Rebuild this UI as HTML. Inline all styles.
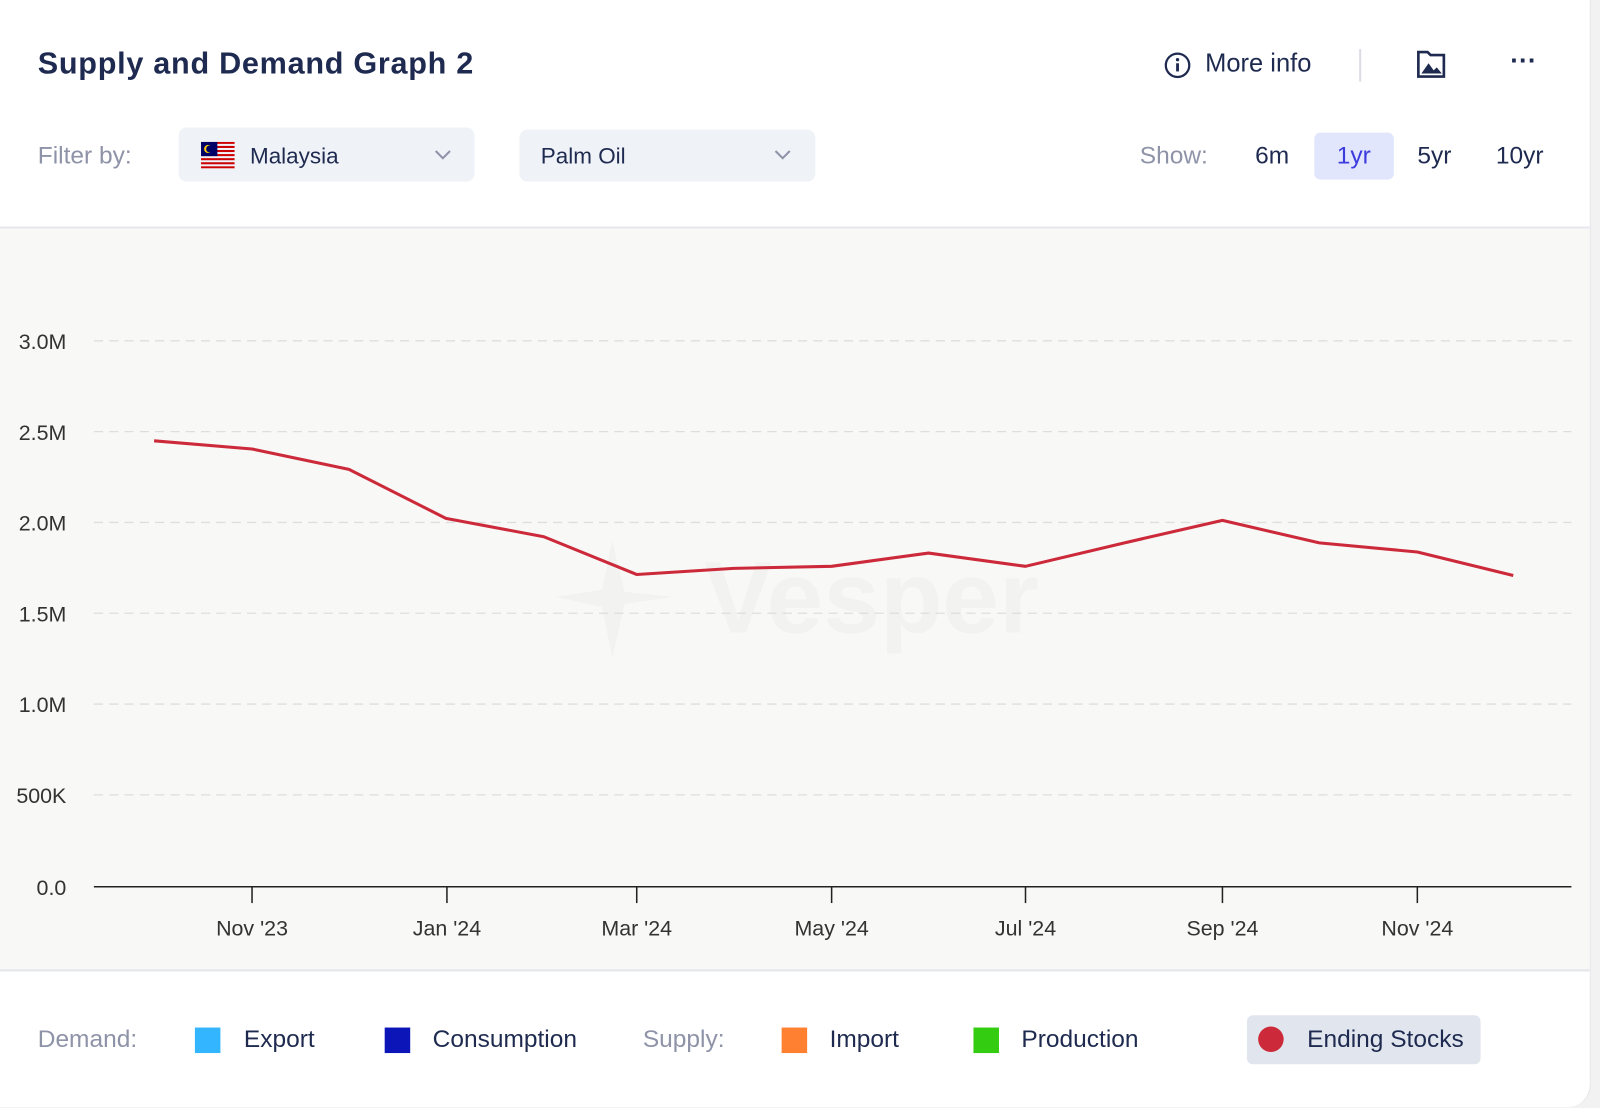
<!DOCTYPE html>
<html><head><meta charset="utf-8"><style>
body{margin:0;width:1600px;height:1108px;background:#f2f2f2;font-family:"Liberation Sans",sans-serif;overflow:hidden;position:relative}
.wrap{position:absolute;left:0;top:0;width:1568px;height:1086px;transform:scale(1.0204);transform-origin:0 0}
.card{position:absolute;left:0;top:0;width:1558px;height:1085px;background:#fff;border-radius:0 0 22px 0;border-right:1px solid #e3e3e8;overflow:hidden}
.t{position:absolute;white-space:nowrap}
.sel{position:absolute;background:#eff2f7;border-radius:8px;height:53px}
</style></head><body>
<div class="wrap">
<div class="card">
<div class="t" style="left:37px;top:46px;font-size:30px;font-weight:bold;color:#1e2a4f;letter-spacing:0.7px">Supply and Demand Graph 2</div>
<svg class="t" style="left:1140px;top:50px" width="28" height="28"><circle cx="14" cy="14" r="11.5" fill="none" stroke="#1e2a4f" stroke-width="2.2"/><rect x="12.6" y="12" width="2.8" height="8" fill="#1e2a4f"/><circle cx="14" cy="8.5" r="1.6" fill="#1e2a4f"/></svg>
<div class="t" style="left:1181px;top:48px;font-size:25px;color:#1e2a4f">More info</div>
<div class="t" style="left:1332px;top:48px;width:2px;height:32px;background:#dcdde3"></div>
<svg class="t" style="left:1388px;top:48px" width="30" height="30"><path d="M2 3h9l3 3h13v21H2z" fill="none" stroke="#1e2a4f" stroke-width="2.6"/><path d="M5 24l7-10 5 7 3-3 5 6z" fill="#1e2a4f"/></svg>
<div class="t" style="left:1480px;top:44px;font-size:26px;color:#1e2a4f;font-weight:bold">···</div>
<div class="t" style="left:37px;top:139px;font-size:24px;color:#8e93a8">Filter by:</div>
<div class="sel" style="left:175px;top:125px;width:290px"></div>
<svg class="t" style="left:197px;top:139px" width="33" height="26"><g fill="#cc0000"><rect y="0" width="33" height="2"/><rect y="4" width="33" height="2"/><rect y="8" width="33" height="2"/><rect y="12" width="33" height="2"/><rect y="16" width="33" height="2"/><rect y="20" width="33" height="2"/><rect y="24" width="33" height="2"/></g><rect width="16" height="14" fill="#010066"/><circle cx="7" cy="7" r="4" fill="#fc0"/><circle cx="8.5" cy="7" r="3.5" fill="#010066"/></svg>
<div class="t" style="left:245px;top:140px;font-size:22px;color:#1e2a4f">Malaysia</div>
<svg class="t" style="left:425px;top:146px" width="18" height="12"><path d="M2 2l7 7 7-7" fill="none" stroke="#8e93a8" stroke-width="2"/></svg>
<div class="sel" style="left:509px;top:127px;width:290px;height:51px"></div>
<div class="t" style="left:530px;top:140px;font-size:22px;color:#1e2a4f">Palm Oil</div>
<svg class="t" style="left:758px;top:146px" width="18" height="12"><path d="M2 2l7 7 7-7" fill="none" stroke="#8e93a8" stroke-width="2"/></svg>
<div class="t" style="left:1117px;top:139px;font-size:24px;color:#8e93a8">Show:</div>
<div class="t" style="left:1230px;top:139px;font-size:24px;color:#1e2a4f">6m</div>
<div class="t" style="left:1288px;top:130px;width:78px;height:46px;background:#e1e6fd;border-radius:6px"></div>
<div class="t" style="left:1310px;top:139px;font-size:24px;color:#3b3bde">1yr</div>
<div class="t" style="left:1389px;top:139px;font-size:24px;color:#1e2a4f">5yr</div>
<div class="t" style="left:1466px;top:139px;font-size:24px;color:#1e2a4f">10yr</div>
<div class="t" style="left:0;top:222px;width:1558px;height:2px;background:#e6e7ec"></div>
<div class="t" style="left:0;top:224px;width:1558px;height:726px;background:#f8f8f6;border-bottom:2px solid #e3e5ea"></div>
<svg class="t" style="left:0;top:0" width="1558" height="1000">
<text x="690" y="620" font-size="100" font-weight="bold" fill="#f2f2f0" font-family="Liberation Sans">Vesper</text>
<path d="M600 530 L612 580 L660 585 L612 592 L600 645 L590 595 L545 585 L590 578Z" fill="#f2f2f0"/>
<g stroke="#dedede" stroke-width="1.3" stroke-dasharray="9,6">
<line x1="92" y1="334" x2="1540" y2="334"/><line x1="92" y1="423" x2="1540" y2="423"/><line x1="92" y1="512" x2="1540" y2="512"/><line x1="92" y1="601" x2="1540" y2="601"/><line x1="92" y1="690" x2="1540" y2="690"/><line x1="92" y1="779" x2="1540" y2="779"/></g>
<line x1="92" y1="869" x2="1540" y2="869" stroke="#222" stroke-width="1.5"/>
<g stroke="#222" stroke-width="1.5"><line x1="247" y1="869" x2="247" y2="885"/><line x1="438" y1="869" x2="438" y2="885"/><line x1="624" y1="869" x2="624" y2="885"/><line x1="815" y1="869" x2="815" y2="885"/><line x1="1005" y1="869" x2="1005" y2="885"/><line x1="1198" y1="869" x2="1198" y2="885"/><line x1="1389" y1="869" x2="1389" y2="885"/></g>
<g font-size="21" fill="#333" font-family="Liberation Sans" text-anchor="end">
<text x="65" y="342">3.0M</text><text x="65" y="431">2.5M</text><text x="65" y="520">2.0M</text><text x="65" y="609">1.5M</text><text x="65" y="698">1.0M</text><text x="65" y="787">500K</text><text x="65" y="877">0.0</text></g>
<g font-size="21" fill="#333" font-family="Liberation Sans" text-anchor="middle">
<text x="247" y="917">Nov '23</text><text x="438" y="917">Jan '24</text><text x="624" y="917">Mar '24</text><text x="815" y="917">May '24</text><text x="1005" y="917">Jul '24</text><text x="1198" y="917">Sep '24</text><text x="1389" y="917">Nov '24</text></g>
<polyline fill="none" stroke="#cc2a3a" stroke-width="3" stroke-linejoin="round" points="151,432 247,440 342,460 437,508 533,526 624,563 719,557 815,555 910,542 1005,555 1102,532 1198,510 1293,532 1389,541 1483,564"/>
</svg>
<div class="t" style="left:37px;top:1005px;font-size:24px;color:#8e93a8">Demand:</div>
<div class="t" style="left:191px;top:1007px;width:25px;height:25px;background:#33b5ff"></div>
<div class="t" style="left:239px;top:1005px;font-size:24px;color:#1e2a4f">Export</div>
<div class="t" style="left:377px;top:1007px;width:25px;height:25px;background:#0c16b8"></div>
<div class="t" style="left:424px;top:1005px;font-size:24px;color:#1e2a4f">Consumption</div>
<div class="t" style="left:630px;top:1005px;font-size:24px;color:#8e93a8">Supply:</div>
<div class="t" style="left:766px;top:1007px;width:25px;height:25px;background:#ff8030"></div>
<div class="t" style="left:813px;top:1005px;font-size:24px;color:#1e2a4f">Import</div>
<div class="t" style="left:954px;top:1007px;width:25px;height:25px;background:#33cc11"></div>
<div class="t" style="left:1001px;top:1005px;font-size:24px;color:#1e2a4f">Production</div>
<div class="t" style="left:1222px;top:995px;width:229px;height:48px;background:#e1e6ee;border-radius:6px"></div>
<div class="t" style="left:1233px;top:1006px;width:25px;height:25px;border-radius:50%;background:#cc2a3a"></div>
<div class="t" style="left:1281px;top:1005px;font-size:24px;color:#1e2a4f">Ending Stocks</div>
</div>
</div>
</body></html>
